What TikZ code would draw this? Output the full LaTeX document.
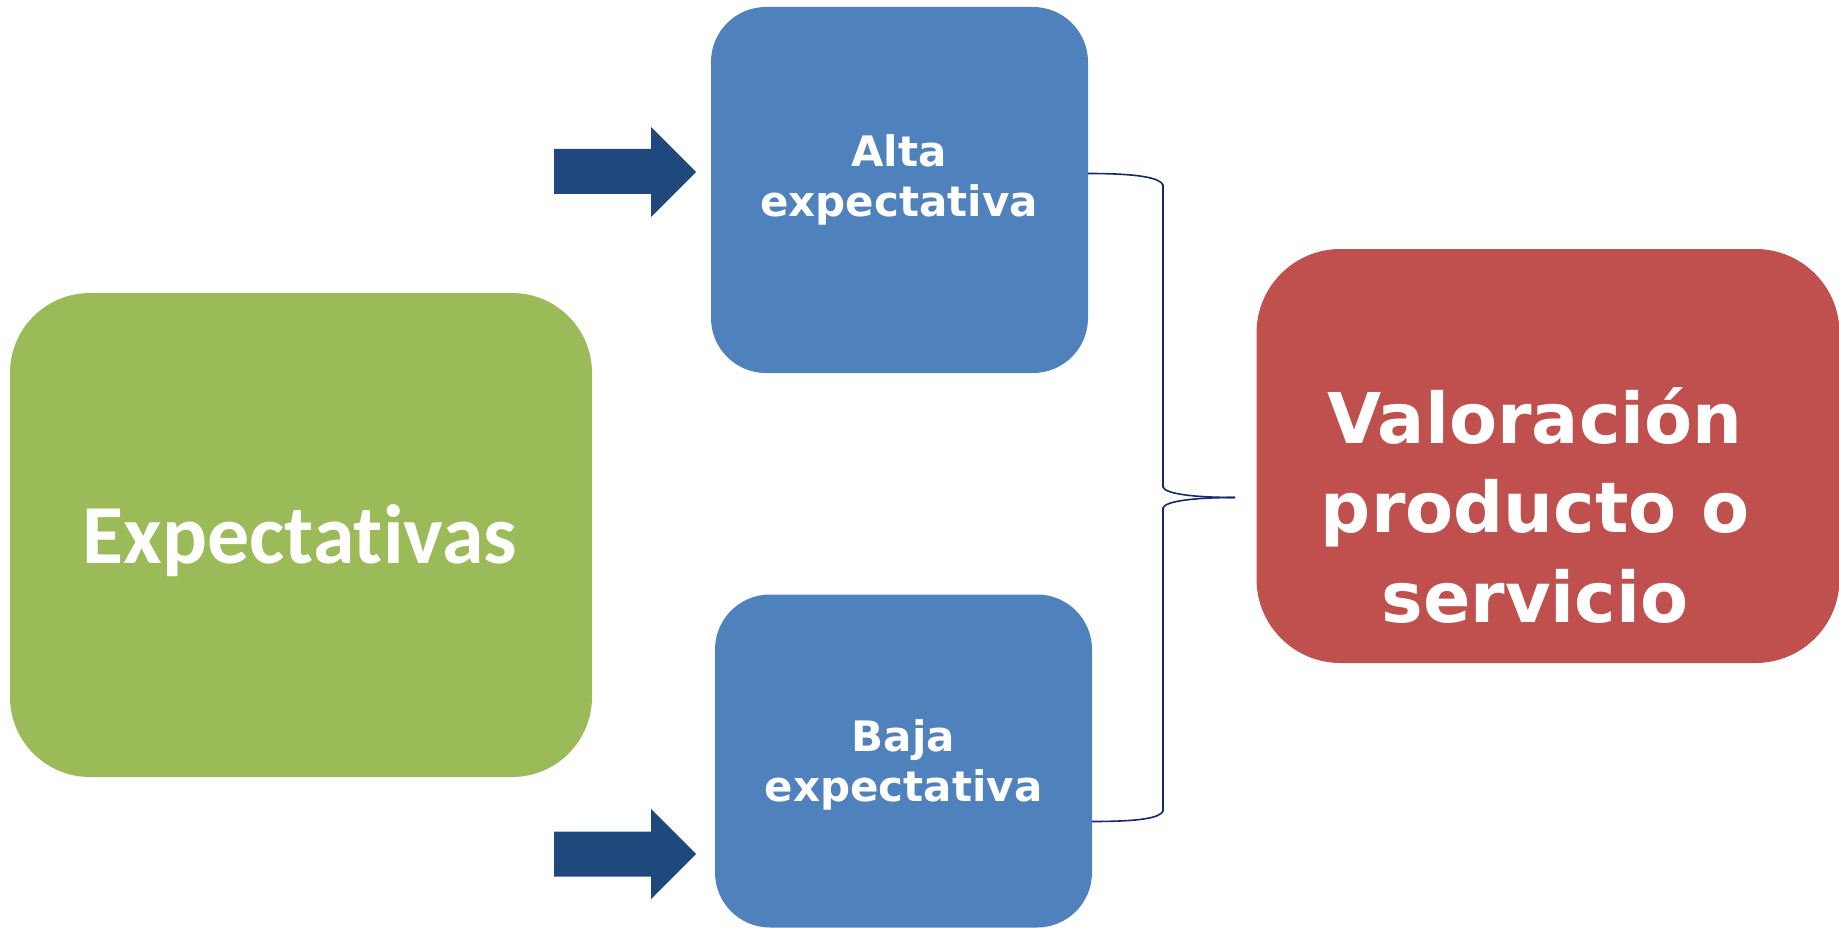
\documentclass[tikz,border=0pt]{standalone}
\usepackage{fontspec}
\newfontfamily\verd{DejaVu Sans}
\newfontfamily\calib{Carlito}[Ligatures={NoCommon}]
\definecolor{cgreen}{HTML}{9BBB59}
\definecolor{cblue}{HTML}{4F81BD}
\definecolor{cred}{HTML}{C0504D}
\definecolor{cnavy}{HTML}{1F497D}
\definecolor{cbrace}{RGB}{20,40,110}
\tikzset{
  box/.style={draw=none, inner sep=0pt, outer sep=0pt},
  greenbox/.style={box, fill=cgreen, minimum width=582pt, minimum height=484pt, rounded corners=80pt},
  bluebox/.style={box, fill=cblue, minimum width=377pt, rounded corners=55pt},
  redbox/.style={box, fill=cred, minimum width=583pt, minimum height=414pt, rounded corners=84pt},
  smalltxt/.style={text=white, align=center, inner sep=0pt, font=\verd\bfseries\fontsize{42}{50}\selectfont},
  bigtxt/.style={text=white, align=center, inner sep=0pt, font=\verd\bfseries\fontsize{70}{89.5}\selectfont},
  greentxt/.style={text=white, align=center, inner sep=0pt, font=\calib\bfseries\fontsize{84}{98}\selectfont},
  blockarrow/.style={fill=cnavy},
  bracestyle/.style={draw=cbrace, line width=1.6pt}
}
\begin{document}
\begin{tikzpicture}[x=1pt, y=-1pt]
\useasboundingbox (0,0) rectangle (1839,928);
% boxes
\node[greenbox] (expbox) at (301,535) {};
\node[bluebox, minimum height=366pt] (altabox) at (899.5,190) {};
\node[bluebox, minimum height=333pt] (bajabox) at (903.5,761) {};
\node[redbox] (valbox) at (1548,456) {};
% texts
\node[greentxt] (exptxt) at (300,541) {Expectativas};
\node[smalltxt] (altatxt) at (899,180) {Alta\\expectativa};
\node[smalltxt] (bajatxt) at (903.5,765) {Baja\\expectativa};
\node[bigtxt] (valtxt) at (1535,505) {Valoración\\producto o\\servicio};
% block arrows
\fill[blockarrow] (554,149) -- (651,149) -- (651,127) -- (696,172) coordinate (tipA) -- (651,217) -- (651,194) -- (554,194) -- cycle;
\fill[blockarrow] (554,831.5) -- (651,831.5) -- (651,809) -- (696,854) coordinate (tipB) -- (651,899) -- (651,876.5) -- (554,876.5) -- cycle;
% brace
\coordinate (bt) at (altabox.east |- 0,173.5);
\coordinate (bb) at (bajabox.east |- 0,821.5);
\coordinate (btip) at (1235,497.5);
\draw[bracestyle] (bt) .. controls (1140,173.5) and (1160,178) .. (1163,185)
  -- (1163,487) .. controls (1165,494) and (1195,497.5) .. (btip);
\draw[bracestyle] (btip) .. controls (1195,497.5) and (1165,501) .. (1163,508)
  -- (1163,811) .. controls (1160,818) and (1140,821.5) .. (bb);
\end{tikzpicture}
\end{document}
